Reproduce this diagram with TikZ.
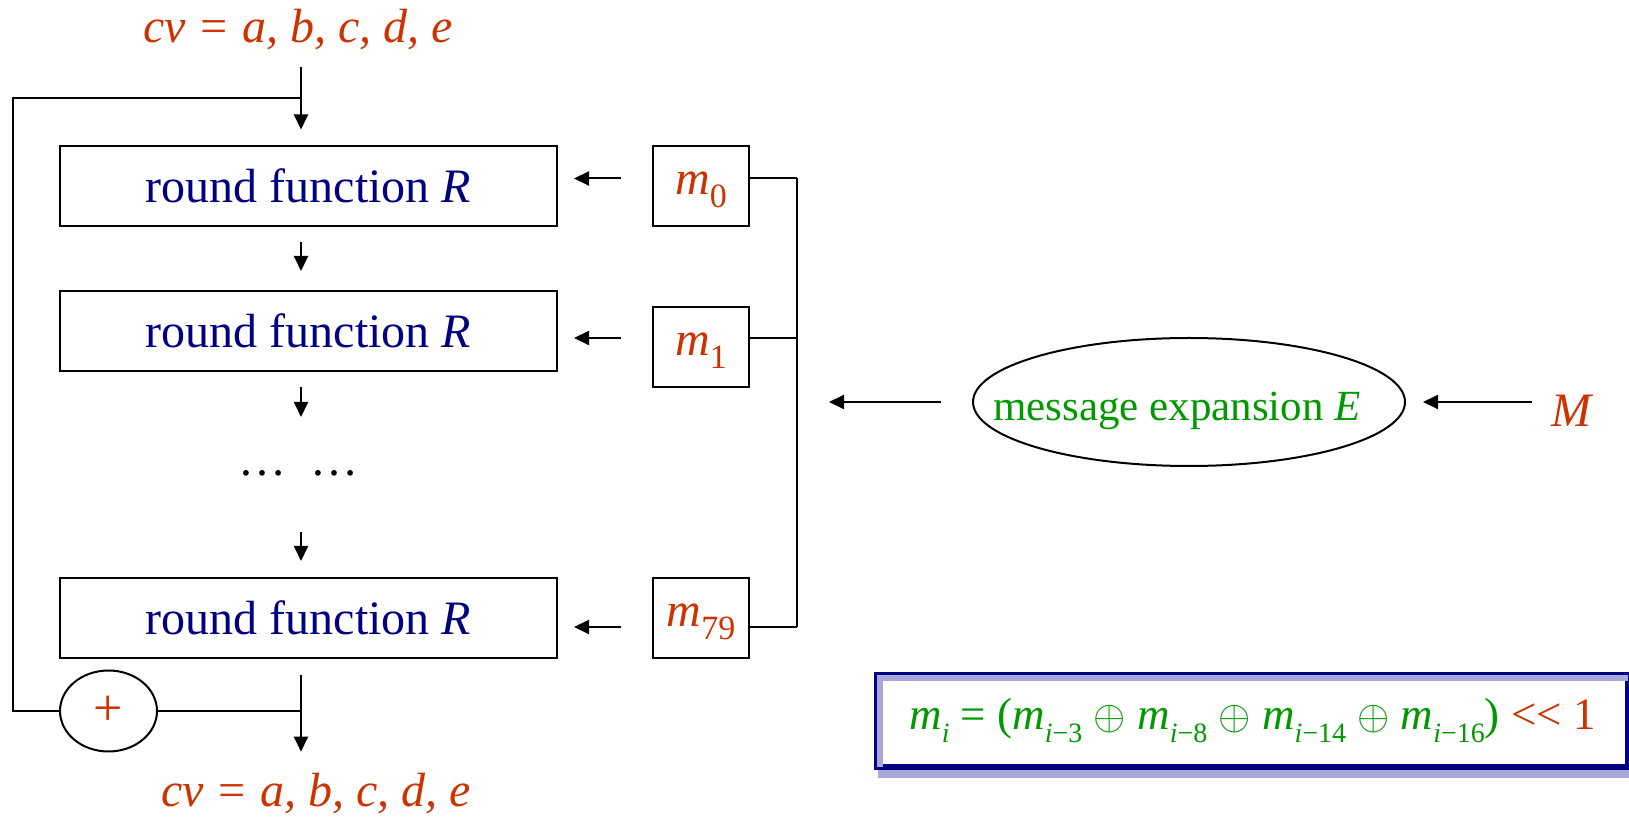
\documentclass[tikz,border=0pt]{standalone}
\usepackage{fontspec}
\setmainfont{Liberation Serif}
\usetikzlibrary{arrows.meta,calc,shapes.geometric}

\definecolor{navy}{RGB}{0,0,128}
\definecolor{rust}{RGB}{204,51,0}
\definecolor{leaf}{RGB}{0,153,0}
\definecolor{hatch}{RGB}{168,168,218}

\newcommand\sub[2][17]{\raisebox{-6.5pt}{\fontsize{#1}{#1}\selectfont #2}}

\begin{document}
\begin{tikzpicture}[x=0.5pt, y=-0.5pt, line width=1pt,
    arr/.style={-{Triangle[length=7.5pt,width=7pt]}},
    roundbox/.style={draw, minimum width=248.5pt, minimum height=40pt, inner sep=0pt,
        text height=16.4pt, text depth=0pt, text=navy, font=\fontsize{24}{28}\selectfont},
    wordbox/.style={draw, minimum width=48pt, minimum height=40pt, inner sep=0pt,
        text height=15pt, text depth=6.5pt, text=rust, font=\fontsize{24}{28}\selectfont},
    cvtext/.style={anchor=base, inner sep=0pt, text=rust, font=\fontsize{24}{28}\selectfont\itshape}]
    \useasboundingbox (0,0) rectangle (1629,817);

    % 链值与辅助坐标
    \node[cvtext] (cvin) at (298,43) {cv = a, b, c, d, e};
    \coordinate (col) at (301,0);
    \coordinate (bus) at (797,0);
    \coordinate (tap) at (301,98);
    \coordinate (loop) at (13,711);

    % 轮函数
    \node[roundbox] (r1) at (308.5,186.5) {round function \textit{R}};
    \node[roundbox] (r2) at (308.5,331) {round function \textit{R}};
    \node[minimum height=30pt, inner sep=0pt, font=\fontsize{24}{28}\selectfont] (dots) at (298,473) {…\hspace{0.5em}…};
    \node[roundbox] (r3) at (308.5,618) {round function \textit{R}};

    % 消息字
    \node[wordbox] (m0) at (701,186.5) {\textit{m}\sub{0}};
    \node[wordbox] (m1) at (701,347) {\textit{m}\sub{1}};
    \node[wordbox] (m79) at (701,618) {\textit{m}\sub{79}};

    % 反馈加法与输出
    \node[draw, ellipse, minimum width=48.5pt, minimum height=40.5pt, inner sep=0pt,
        text=rust, font=\fontsize{26}{28}\selectfont] (plus) at (108.5,711) {+};
    \node[cvtext] (cvout) at (316,806) {cv = a, b, c, d, e};

    % 消息扩展
    \node[draw, ellipse, minimum width=216pt, minimum height=64pt, inner sep=0pt,
        label={[text=leaf, font=\fontsize{21.5}{24}\selectfont, xshift=-6pt, yshift=-4.5pt]center:message expansion \textit{E}}]
        (mexp) at (1189,402) {};
    \node[anchor=base, inner sep=0pt, text=rust, font=\fontsize{24}{28}\selectfont\itshape] (msg) at (1571,427) {M};

    % 公式框
    \fill[hatch] (878,680) rectangle (1640,778);
    \node[draw=navy, line width=3pt, fill=white, minimum width=375.5pt, minimum height=46pt, inner sep=0pt,
        text=leaf, font=\fontsize{22.5}{26}\selectfont] (rule) at (1252.5,721)
        {\textit{m}\sub[14]{\textit{i}} = (\textit{m}\sub[14]{\textit{i}−3} $\oplus$ \textit{m}\sub[14]{\textit{i}−8}
         $\oplus$ \textit{m}\sub[14]{\textit{i}−14} $\oplus$ \textit{m}\sub[14]{\textit{i}−16}) {\color{rust}<{}< 1}};
    \draw[hatch, line width=3pt] ([shift={(3pt,1.5pt)}]rule.south west) |- ([shift={(-1.5pt,-3pt)}]rule.north east);

    % 连线
    \draw[arr, shorten <=8pt, shorten >=8pt] (cvin.south -| col) -- (r1.north -| col);
    \draw[arr, shorten <=7.5pt, shorten >=9.5pt] (r1.south -| col) -- (r2.north -| col);
    \draw[arr, shorten <=7.5pt, shorten >=12.5pt] (r2.south -| col) -- (dots.north -| col);
    \draw[arr, shorten <=14pt, shorten >=8pt] (dots.south -| col) -- (r3.north -| col);
    \draw[arr, shorten <=8pt, shorten >=10pt] (r3.south -| col) -- (cvout.north -| col);
    \draw (tap) -| (loop) -- (plus);
    \draw (plus) -- (plus -| col);

    \foreach \w/\r/\dy in {m0/r1/4pt, m1/r2/4.5pt, m79/r3/-4.5pt} {
        \draw[arr, shorten <=15.5pt, shorten >=8pt] ([yshift=\dy]\w.west) -- ([yshift=\dy]\w.west -| \r.east);
        \draw ([yshift=\dy]\w.east) -- ([yshift=\dy]\w.east -| bus);
    }
    \draw ([yshift=4pt]m0.east -| bus) -- ([yshift=-4.5pt]m79.east -| bus);

    \draw[arr, shorten <=15.5pt, shorten >=16pt] (mexp.west) -- (mexp.west -| bus);
    \draw[arr, shorten <=9pt, shorten >=8.5pt] (mexp.east -| msg.west) -- (mexp.east);
\end{tikzpicture}
\end{document}
